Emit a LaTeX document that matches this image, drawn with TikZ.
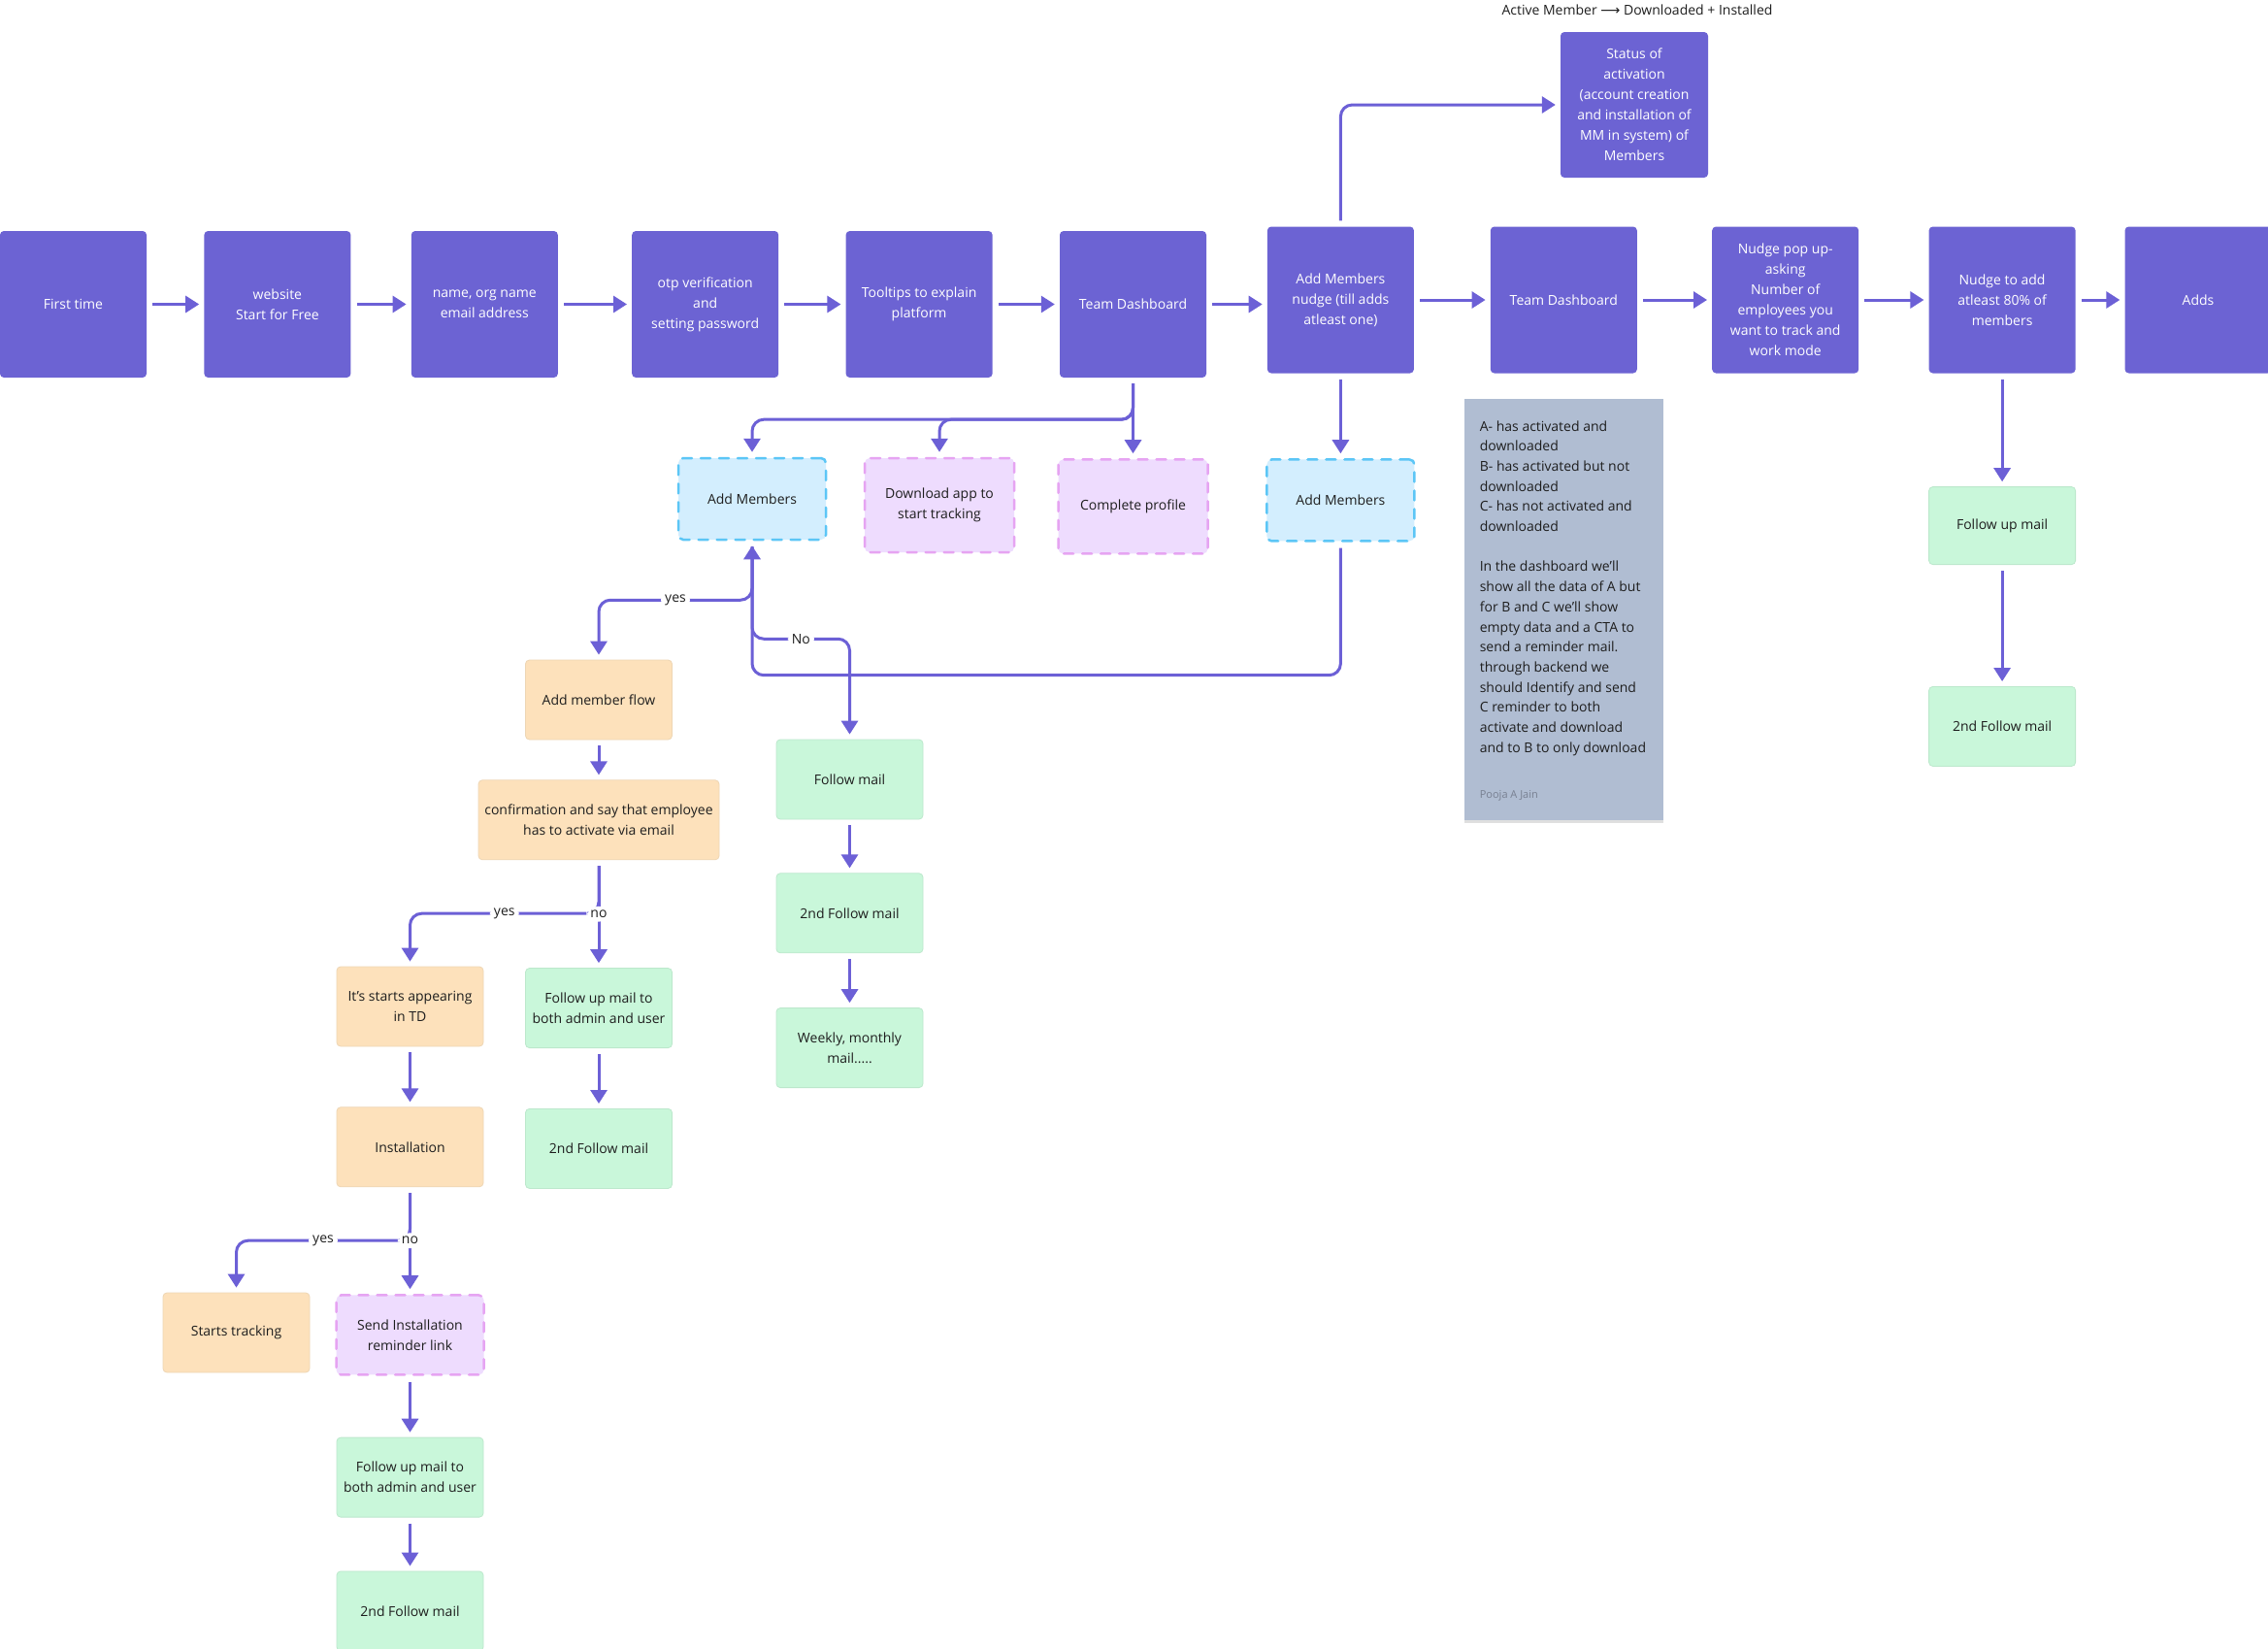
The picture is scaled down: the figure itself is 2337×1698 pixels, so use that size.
\documentclass[tikz,border=0pt]{standalone}
\usepackage{fontspec}
\setmainfont{Open Sans}
\newfontfamily\arrowfont{DejaVu Sans}
\usepackage{tikz}
\usetikzlibrary{arrows.meta,positioning,shadows}
\definecolor{violetbox}{RGB}{108,99,211}
\definecolor{flowline}{RGB}{108,96,214}
\definecolor{skyfill}{RGB}{211,238,254}
\definecolor{skyline}{RGB}{92,198,246}
\definecolor{lilacfill}{RGB}{238,220,254}
\definecolor{lilacline}{RGB}{230,164,242}
\definecolor{peachfill}{RGB}{253,225,187}
\definecolor{peachline}{RGB}{238,214,180}
\definecolor{mintfill}{RGB}{201,247,218}
\definecolor{mintline}{RGB}{188,232,204}
\definecolor{notefill}{RGB}{176,189,210}
\definecolor{ink}{RGB}{30,30,30}
\definecolor{signgray}{RGB}{120,128,145}
\newcommand{\boxfont}{\fontsize{14}{21}\selectfont}

\begin{document}
\begin{tikzpicture}[x=1pt, y=-1pt,
      vbox/.style={rounded corners=4pt, fill=violetbox, text=white, font=\boxfont, align=center, inner sep=2pt, minimum width=151pt, minimum height=151pt},
      skybox/.style={rounded corners=5pt, fill=skyfill, draw=skyline, line width=2.5pt, line cap=round, dash pattern=on 10pt off 9pt, text=ink, font=\boxfont, align=center, minimum width=152pt, minimum height=84pt},
      lilacbox/.style={rounded corners=5pt, fill=lilacfill, draw=lilacline, line width=2.5pt, line cap=round, dash pattern=on 10pt off 9pt, text=ink, font=\boxfont, align=center, minimum width=154pt, minimum height=97pt},
      peachbox/.style={rounded corners=4pt, fill=peachfill, draw=peachline, line width=0.8pt, text=ink, font=\boxfont, align=center, inner sep=2pt, minimum width=151pt, minimum height=82pt},
      mintbox/.style={rounded corners=4pt, fill=mintfill, draw=mintline, line width=0.8pt, text=ink, font=\boxfont, align=center, inner sep=2pt, minimum width=151pt, minimum height=82pt},
      notebox/.style={fill=notefill, minimum width=205pt, minimum height=434pt, drop shadow={shadow xshift=0pt, shadow yshift=-3pt, opacity=0.25}},
      arr/.style={-{Triangle[length=14pt,width=17pt]}, line width=3pt, draw=flowline, rounded corners=12pt, shorten <=6pt, shorten >=5pt},
      lbl/.style={fill=white, text=ink, font=\boxfont, inner sep=4pt}
    ]
      \useasboundingbox (0,0) rectangle (2337,1698);
      \fill[white] (0,0) rectangle (2337,1698);

      \node[vbox] (first) at (75.5,313.5) {First time};
      \node[vbox, right=59pt of first] (website) {website\\Start for Free};
      \node[vbox, right=62pt of website] (signup) {name, org name\\email address};
      \node[vbox, right=76pt of signup] (otp) {otp verification\\and\\setting password};
      \node[vbox, right=69pt of otp] (tooltips) {Tooltips to explain\\platform};
      \node[vbox, right=69pt of tooltips] (dash) {Team Dashboard};
      \node[vbox, right=62.5pt of dash, yshift=4.5pt] (nudge) {Add Members\\nudge (till adds\\atleast one)};
      \node[vbox, right=78.5pt of nudge] (dashb) {Team Dashboard};
      \node[vbox, right=77pt of dashb] (popup) {Nudge pop up-\\asking\\Number of\\employees you\\want to track and\\work mode};
      \node[vbox, right=72pt of popup] (eighty) {Nudge to add\\atleast 80\% of\\members};
      \node[vbox, right=50.5pt of eighty] (adds) {Adds};

      \node[vbox, minimum width=152pt, minimum height=150pt] (status) at (1684,108) {Status of\\activation\\(account creation\\and installation of\\MM in system) of\\Members};
      \node[text=ink, font=\boxfont] (legend) at (1687,10) {Active Member {\arrowfont ⟶} Downloaded + Installed};

      \node[skybox] (addA) at (775,514) {Add Members};
      \node[lilacbox] (download) at (968,520.5) {Download app to\\start tracking};
      \node[lilacbox, below=83pt of dash] (profile) {Complete profile};
      \node[skybox, below=87.5pt of nudge] (addB) {Add Members};

      \node[notebox, below=26.5pt of dashb] (note) {};
      \node[anchor=north west, align=left, inner sep=0pt, text=ink, font=\fontsize{14}{20.7}\selectfont] (notetext) at ([xshift=16pt, yshift=-22pt]note.north west) {A- has activated and\\downloaded\\B- has activated but not\\downloaded\\C- has not activated and\\downloaded\\[20.7pt]In the dashboard we’ll\\show all the data of A but\\for B and C we’ll show\\empty data and a CTA to\\send a reminder mail.\\through backend we\\should Identify and send\\C reminder to both\\activate and download\\and to B to only download};
      \node[anchor=west, inner sep=0pt, text=signgray, font=\fontsize{11}{13}\selectfont] (signature) at ([xshift=16pt] note.west |- 0,820) {Pooja A Jain};

      \node[mintbox, minimum height=80pt, below=116.5pt of eighty] (mailR) {Follow up mail};
      \node[mintbox, below=125pt of mailR] (mailRb) {2nd Follow mail};

      \node[peachbox] (flow) at (617,721) {Add member flow};
      \node[peachbox, minimum width=248pt, below=41pt of flow] (confirm) {confirmation and say that employee\\has to activate via email};
      \node[mintbox, below=111pt of confirm] (mailA) {Follow up mail to\\both admin and user};
      \node[mintbox, below=62pt of mailA] (mailAb) {2nd Follow mail};
      \node[peachbox] (appear) at (422.5,1037) {It’s starts appearing\\in TD};
      \node[peachbox, below=62pt of appear] (install) {Installation};
      \node[lilacbox, minimum width=152pt, minimum height=82pt, below=110pt of install] (remind) {Send Installation\\reminder link};
      \node[peachbox] (tracking) at (243.5,1373) {Starts tracking};
      \node[mintbox, below=63pt of remind] (mailB) {Follow up mail to\\both admin and user};
      \node[mintbox, below=55pt of mailB] (mailBb) {2nd Follow mail};

      \node[mintbox] (mailC) at (875.5,803) {Follow mail};
      \node[mintbox, below=55pt of mailC] (mailCb) {2nd Follow mail};
      \node[mintbox, below=56pt of mailCb] (weekly) {Weekly, monthly\\mail.....};

      \draw[arr] (first) -- (website);
      \draw[arr] (website) -- (signup);
      \draw[arr] (signup) -- (otp);
      \draw[arr] (otp) -- (tooltips);
      \draw[arr] (tooltips) -- (dash);
      \draw[arr] (dash.east) -- (dash.east -| nudge.west);
      \draw[arr] (nudge) -- (dashb);
      \draw[arr] (dashb) -- (popup);
      \draw[arr] (popup) -- (eighty);
      \draw[arr] (eighty) -- (adds);
      \draw[arr] (nudge.north) |- (status.west);

      \draw[arr] (dash.south) -- ++(0,43) -| (addA.north);
      \draw[arr] (dash.south) -- ++(0,43) -| (download.north);
      \draw[arr] (dash.south) -- (profile.north);
      \draw[arr] (nudge.south) -- (addB.north);
      \draw[arr] (addB.south) -- ++(0,137) -| (addA.south);
      \draw[arr] (addA.south) -- ++(0,61) -| node[lbl, pos=0.25] {yes} (flow.north);
      \draw[arr] (addA.south) -- ++(0,101) -| node[lbl, pos=0.25] {No} (mailC.north);

      \draw[arr] (flow) -- (confirm);
      \draw[arr] (confirm.south) -- ++(0,55) -| node[lbl, pos=0.25] {yes} (appear.north);
      \draw[arr] (confirm.south) -- node[lbl] {no} (mailA.north);
      \draw[arr] (mailA) -- (mailAb);
      \draw[arr] (appear) -- (install);
      \draw[arr] (install.south) -- ++(0,55) -| node[lbl, pos=0.25] {yes} (tracking.north);
      \draw[arr] (install.south) -- node[lbl] {no} (remind.north);
      \draw[arr] (remind) -- (mailB);
      \draw[arr] (mailB) -- (mailBb);

      \draw[arr] (mailC) -- (mailCb);
      \draw[arr] (mailCb) -- (weekly);
      \draw[arr] (eighty) -- (mailR);
      \draw[arr] (mailR) -- (mailRb);
    \end{tikzpicture}
\end{document}
